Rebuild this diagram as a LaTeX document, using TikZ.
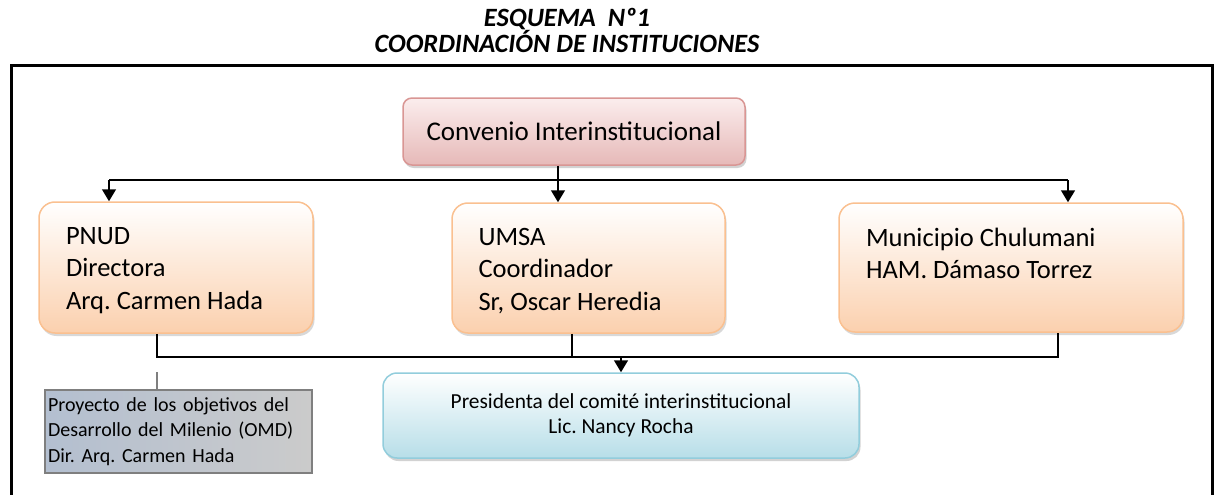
\documentclass[tikz,border=0pt]{standalone}
\usepackage{fontspec}
\setmainfont{Carlito}
\usetikzlibrary{arrows.meta,shadows}
\frenchspacing

\definecolor{pinkline}{HTML}{D99694}
\definecolor{pinktop}{HTML}{FBEDED}
\definecolor{pinkbot}{HTML}{E6B9B8}
\definecolor{orline}{HTML}{FAC090}
\definecolor{orbot}{HTML}{FBD0AE}
\definecolor{blline}{HTML}{92CDDC}
\definecolor{blbot}{HTML}{B7DEE8}
\definecolor{grline}{HTML}{7F7F7F}
\definecolor{grleft}{HTML}{B3BFD0}
\definecolor{grright}{HTML}{CBCBCB}

\tikzstyle{head} = [font=\fontsize{26.4}{25}\selectfont\bfseries\itshape, align=center]
\tikzstyle{conv} = [draw=pinkline, line width=1.5pt, rounded corners=9pt, shading=axis,
    top color=pinktop, bottom color=pinkbot, minimum width=342pt, minimum height=67pt,
    font=\fontsize{27}{30}\selectfont,
    drop shadow={shadow xshift=1.5pt, shadow yshift=-3pt, fill=black!35}]
\tikzstyle{inst} = [draw=orline, line width=1.5pt, rounded corners=16pt, shading=axis,
    top color=white, bottom color=orbot, inner sep=0pt,
    drop shadow={shadow xshift=1.5pt, shadow yshift=-3pt, fill=black!30}]
\tikzstyle{pres} = [draw=blline, line width=1.5pt, rounded corners=14pt, shading=axis,
    top color=white, bottom color=blbot, minimum width=476pt, minimum height=85pt,
    align=center, font=\fontsize{21.4}{25}\selectfont,
    drop shadow={shadow xshift=1.5pt, shadow yshift=-3pt, fill=black!35}]
\tikzstyle{proy} = [draw=grline, line width=1.5pt, shading=axis, left color=grleft,
    right color=grright, minimum width=267pt, minimum height=83pt, inner sep=3pt,
    text width=261pt, align=left, font=\fontsize{20}{25.5}\selectfont]
\tikzstyle{link} = [line width=1.5pt]
\tikzstyle{arr} = [line width=1.5pt, -{Triangle[length=12pt,width=14pt]}]

\newcommand{\insttext}[3]{\parbox[c][#2pt][t]{#1pt}{\fontsize{26.5}{32.5}\selectfont\vspace*{25pt}#3}}

\begin{document}
\begin{tikzpicture}[x=1pt,y=-1pt]
\useasboundingbox (0,0) rectangle (1216,495);

% title and frame
\node[head] (title) at (567,30.5) {ESQUEMA~~Nº1\\COORDINACIÓN DE INSTITUCIONES};
\draw[line width=3pt] (11.5,497) -- (11.5,65.5) -- (1212,65.5) -- (1212,497);

% boxes
\node[conv] (conv) at (574,131.5) {Convenio Interinstitucional};
\node[inst, minimum width=274pt, minimum height=131pt] (pnud) at (176,267.5)
    {\insttext{220}{131}{PNUD\\Directora\\Arq. Carmen Hada}};
\node[inst, minimum width=273pt, minimum height=130pt] (umsa) at (588.5,268)
    {\insttext{220}{130}{UMSA\\Coordinador\\Sr, Oscar Heredia}};
\node[inst, minimum width=344pt, minimum height=129pt] (muni) at (1011,267.5)
    {\insttext{290}{129}{Municipio Chulumani\\HAM. Dámaso Torrez}};
\node[pres] (pres) at (621,415.5) {Presidenta del comité interinstitucional\\Lic. Nancy Rocha};
\node[proy] (omd) at (178.5,431.5) {Proyecto de los objetivos del\\Desarrollo del Milenio (OMD)\\Dir. Arq. Carmen Hada};

% upper connectors
\coordinate (ctop) at (558,180);
\coordinate (ltop) at (109,180);
\coordinate (rtop) at (1068,180);
\draw[link] (ctop |- conv.south) -- (ctop);
\draw[link] (ltop) -- (rtop);
\draw[arr] (ltop) -- (ltop |- pnud.north);
\draw[arr] (ctop) -- (ctop |- umsa.north);
\draw[arr] (rtop) -- (rtop |- muni.north);

% lower connectors
\coordinate (lbot) at (157,357);
\coordinate (mbot) at (572,357);
\coordinate (rbot) at (1058,357);
\draw[link] (lbot |- pnud.south) -- (lbot) -- (rbot) -- (rbot |- muni.south);
\draw[link] (mbot |- umsa.south) -- (mbot);
\draw[arr] (pres.north |- lbot) -- (pres.north);
\coordinate (gtop) at (157,372);
\draw[line width=1.5pt, grline] (gtop) -- (gtop |- omd.north);
\end{tikzpicture}
\end{document}
